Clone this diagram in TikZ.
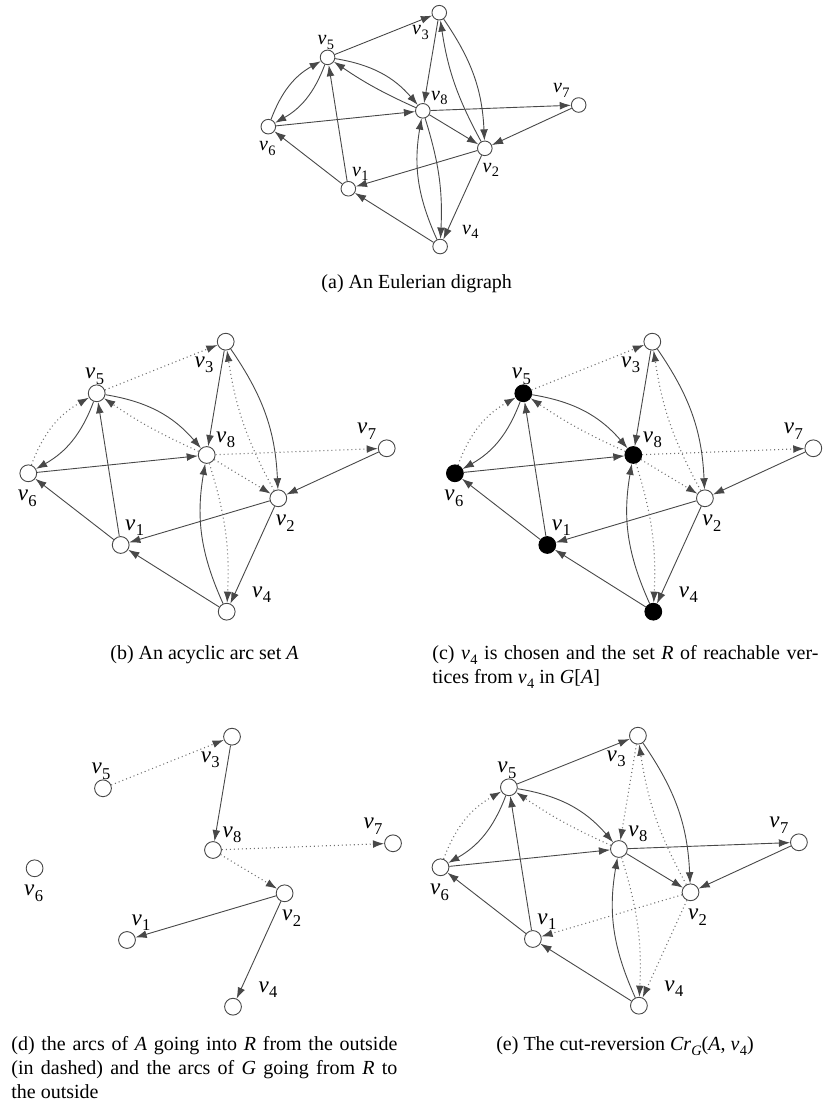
\documentclass[tikz,border=0pt]{standalone}
\usepackage{fontspec}
\setmainfont{Liberation Serif}
\usepackage{graphicx}
\usetikzlibrary{arrows.meta}
\definecolor{ecol}{HTML}{484848}
\definecolor{dcol}{HTML}{707070}
\newcommand\lowsub[1]{\raisebox{-0.5ex}{\scalebox{0.72}{#1}}}
\newcommand\vv[1]{\textit{v}\kern0.02em\lowsub{#1}}
\tikzset{
  vtx/.style={circle,draw=ecol,line width=0.45pt,fill=white,minimum size=8.4pt,inner sep=0pt},
  vtxr/.style={vtx,fill=black,draw=black},
  vlab/.style={font=\fontsize{11.5}{13}\selectfont,inner sep=0pt},
  sarc/.style={draw=ecol,line width=0.45pt,-{Latex[length=5.6pt,width=3.9pt]}},
  darc/.style={draw=dcol,line width=0.55pt,dash pattern=on 0.5pt off 1.5pt,-{Latex[length=5.6pt,width=3.9pt,color=ecol]}},
  captext/.style={font=\fontsize{10}{12}\selectfont,inner sep=0pt,anchor=base},
  captl/.style={captext,anchor=base west},
  e53/.style={sarc}, e38/.style={sarc}, e23/.style={sarc}, e32/.style={sarc},
  e58/.style={sarc}, e85/.style={sarc}, e65/.style={sarc}, e56/.style={sarc},
  e68/.style={sarc}, e87/.style={sarc}, e72/.style={sarc}, e82/.style={sarc},
  e21/.style={sarc}, e24/.style={sarc}, e15/.style={sarc}, e16/.style={sarc},
  e41/.style={sarc}, e48/.style={sarc}, e84/.style={sarc},
}
\newcommand\placenodes[2]{%
  \node[#2] (#1v1) at (120.7,-39) {};
  \node[vtx] (#1v2) at (278.3,7.7) {};
  \node[vtx] (#1v3) at (225.7,164.3) {};
  \node[#2] (#1v4) at (226.7,-105.7) {};
  \node[#2] (#1v5) at (96.7,112.7) {};
  \node[#2] (#1v6) at (28.3,32.7) {};
  \node[vtx] (#1v7) at (386.7,57.7) {};
  \node[#2] (#1v8) at (206.7,51) {};
  \node[vlab] (#1l1) at (134.7,-22) {\vv{1}};
  \node[vlab] (#1l2) at (285.3,-17.3) {\vv{2}};
  \node[vlab] (#1l3) at (204,141.3) {\vv{3}};
  \node[vlab] (#1l4) at (261.7,-88.7) {\vv{4}};
  \node[vlab] (#1l5) at (94.7,129.7) {\vv{5}};
  \node[vlab] (#1l6) at (27.3,7.7) {\vv{6}};
  \node[vlab] (#1l7) at (366.7,74.7) {\vv{7}};
  \node[vlab] (#1l8) at (225.7,66) {\vv{8}};
}
\newcommand\fulledges[1]{%
  \draw[e53] (#1v5) -- (#1v3);
  \draw[e38] (#1v3) -- (#1v8);
  \draw[e23] (#1v2) to[bend left=10] (#1v3);
  \draw[e32] (#1v3) to[bend left=16] (#1v2);
  \draw[e58] (#1v5) to[bend left=20] (#1v8);
  \draw[e85] (#1v8) to[bend left=5] (#1v5);
  \draw[e65] (#1v6) to[bend left=20] (#1v5);
  \draw[e56] (#1v5) to[bend left=20] (#1v6);
  \draw[e68] (#1v6) -- (#1v8);
  \draw[e87] (#1v8) -- (#1v7);
  \draw[e72] (#1v7) -- (#1v2);
  \draw[e82] (#1v8) -- (#1v2);
  \draw[e21] (#1v2) -- (#1v1);
  \draw[e24] (#1v2) -- (#1v4);
  \draw[e15] (#1v1) -- (#1v5);
  \draw[e16] (#1v1) -- (#1v6);
  \draw[e41] (#1v4) -- (#1v1);
  \draw[e48] (#1v4) to[bend left=17] (#1v8);
  \draw[e84] (#1v8) to[bend left=10] (#1v4);
}
\begin{document}
\begin{tikzpicture}[x=0.5pt,y=0.5pt]
\useasboundingbox (0,0) rectangle (833,1106);
% (a)
\begin{scope}[shift={(243.8,951)},scale=0.866,
  vtx/.append style={minimum size=7.3pt},
  vlab/.append style={font=\fontsize{10}{11}\selectfont}]
  \placenodes{a}{vtx}
  \fulledges{a}
\end{scope}
\node[captext] (capa) at (416.7,817.7) {(a) An Eulerian digraph};
% (b)
\begin{scope}[shift={(0,600)},
  e53/.style={darc}, e23/.style={darc}, e85/.style={darc}, e65/.style={darc},
  e87/.style={darc}, e82/.style={darc}, e84/.style={darc}]
  \placenodes{b}{vtx}
  \fulledges{b}
\end{scope}
\node[captext] (capb) at (204.5,446) {(b) An acyclic arc set \textit{A}};
% (c)
\begin{scope}[shift={(426.6,600)},
  e53/.style={darc}, e23/.style={darc}, e85/.style={darc}, e65/.style={darc},
  e87/.style={darc}, e82/.style={darc}, e84/.style={darc}]
  \placenodes{c}{vtxr}
  \fulledges{c}
\end{scope}
\node[captl] (capc1) at (432,446) {\makebox[193pt][s]{(c) \vv{4} is chosen and the set \textit{R} of reachable ver-}};
\node[captl] (capc2) at (432,422) {tices from \vv{4} in \textit{G}[\textit{A}]};
% (d)
\begin{scope}[shift={(6.3,205)}]
  \placenodes{d}{vtx}
  \draw[darc] (dv5) -- (dv3);
  \draw[sarc] (dv3) -- (dv8);
  \draw[darc] (dv8) -- (dv7);
  \draw[darc] (dv8) -- (dv2);
  \draw[sarc] (dv2) -- (dv1);
  \draw[sarc] (dv2) -- (dv4);
\end{scope}
\node[captl] (capd1) at (11,55) {\makebox[193pt][s]{(d) the arcs of \textit{A} going into \textit{R} from the outside}};
\node[captl] (capd2) at (11,31) {\makebox[193pt][s]{(in dashed) and the arcs of \textit{G} going from \textit{R} to}};
\node[captl] (capd3) at (11,7) {the outside};
% (e)
\begin{scope}[shift={(412.2,206)},
  e38/.style={darc}, e23/.style={darc}, e85/.style={darc}, e65/.style={darc},
  e21/.style={darc}, e24/.style={darc}, e84/.style={darc}]
  \placenodes{e}{vtx}
  \fulledges{e}
\end{scope}
\node[captext] (cape) at (625,55) {(e) The cut-reversion \textit{Cr}\lowsub{\textit{G}}(\textit{A}, \vv{4})};
\end{tikzpicture}
\end{document}
